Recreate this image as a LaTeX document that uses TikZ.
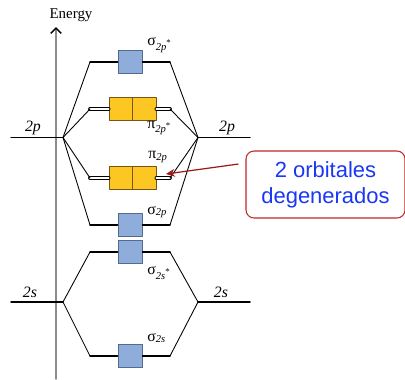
\documentclass[tikz,border=0pt]{standalone}
\usepackage{fontspec}
\setmainfont{Liberation Serif}
\newfontfamily\notefont{Liberation Sans}
\usetikzlibrary{positioning, arrows.meta}

\definecolor{sigmafill}{RGB}{143,173,219}
\definecolor{sigmaedge}{RGB}{85,105,140}
\definecolor{pifill}{RGB}{252,198,35}
\definecolor{piedge}{RGB}{120,85,20}
\definecolor{notered}{RGB}{190,40,40}
\definecolor{noteblue}{RGB}{25,55,245}
\definecolor{pointred}{RGB}{160,25,25}
\definecolor{axisgray}{RGB}{140,140,140}

\begin{document}
\begin{tikzpicture}[x=0.02cm, y=-0.02cm, line cap=round, line join=round]
	\tikzset{
		level/.style={line width=0.85pt},
		link/.style={line width=0.5pt},
		pairlevel/.style={line width=0.55pt, double=white, double distance=1.1pt},
		mobox/.style={line width=0.5pt, minimum width=0.48cm, minimum height=0.46cm, inner sep=0pt},
		sigmabox/.style={mobox, draw=sigmaedge, fill=sigmafill}, % orbital sigma
		pibox/.style={mobox, draw=piedge, fill=pifill, minimum width=0.47cm}, % orbital pi
		molabel/.style={anchor=west, inner sep=0pt, font=\small},
		atomlabel/.style={inner sep=0pt, font=\small\itshape},
		axis/.style={draw=axisgray, line width=0.85pt, -{Straight Barb[color=black, length=3pt, width=6pt]}},
		note/.style={draw=notered, line width=0.6pt, rounded corners=0.16cm, minimum width=3.18cm, minimum height=1.34cm, align=center, text=noteblue, font=\fontsize{12.5}{15}\notefont},
		pointer/.style={draw=pointred, line width=0.7pt, shorten <=0.15cm, -{Stealth[length=5pt, width=4.5pt]}},
		every node/.style={font=\footnotesize}
	}
	\useasboundingbox (0,0) rectangle (405,379);

	% eje de energia
	\coordinate (axisbot) at (56,379);
	\coordinate (axistop) at (56,27);
	\draw[axis] (axisbot) -- (axistop);
	\node[font=\fontsize{8.5}{10}\selectfont] (energy) at (71,15) {Energy};

	% niveles atomicos
	\coordinate (pL) at (11,137.5);
	\coordinate (jpL) at (63,137.5);
	\coordinate (jpR) at (198,137.5);
	\coordinate (pR) at (250,137.5);
	\coordinate (sL) at (11,302);
	\coordinate (jsL) at (63,302);
	\coordinate (jsR) at (198,302);
	\coordinate (sR) at (250,302);

	% extremos de los niveles moleculares
	\foreach \name/\y in {sgpstar/62, pipstar/109, pip/178, sgp/225, sgsstar/252, sgs/356} {
		\coordinate (\name L) at (90,\y);
		\coordinate (\name R) at (170,\y);
	}

	% orbitales
	\node[sigmabox] (sgpstar) at (130,62) {};
	\node[pibox] (pipstarA) at (120.75,109) {};
	\node[pibox, right=-0.5pt of pipstarA] (pipstarB) {};
	\node[pibox] (pipA) at (120.75,178) {};
	\node[pibox, right=-0.5pt of pipA] (pipB) {};
	\node[sigmabox] (sgp) at (130,225) {};
	\node[sigmabox] (sgsstar) at (130,252) {};
	\node[sigmabox] (sgs) at (130,356) {};

	\foreach \name in {sgpstar, sgp, sgsstar, sgs}
		\draw[level] (\name L) -- (\name) -- (\name R);
	\draw[pairlevel] (pipstarL) -- (pipstarA);
	\draw[pairlevel] (pipstarB) -- (pipstarR);
	\draw[pairlevel] (pipL) -- (pipA);
	\draw[pairlevel] (pipB) -- (pipR);

	\draw[level] (pL) -- (jpL);
	\draw[level] (jpR) -- (pR);
	\draw[level] (sL) -- (jsL);
	\draw[level] (jsR) -- (sR);

	\foreach \name in {sgpstar, pipstar, pip, sgp} {
		\draw[link] (jpL) -- (\name L);
		\draw[link] (jpR) -- (\name R);
	}
	\foreach \name in {sgsstar, sgs} {
		\draw[link] (jsL) -- (\name L);
		\draw[link] (jsR) -- (\name R);
	}

	% etiquetas
	\node[atomlabel] (lblpL) at (33,128) {2p};
	\node[atomlabel] (lblpR) at (227,128) {2p};
	\node[atomlabel] (lblsL) at (30,292) {2s};
	\node[atomlabel] (lblsR) at (221,292) {2s};
	\node[molabel] (lblsgpstar) at (147,45) {σ\textsubscript{\textit{2p}\textsuperscript{*}}};
	\node[molabel] (lblpipstar) at (147,128) {π\textsubscript{\textit{2p}\textsuperscript{*}}};
	\node[molabel] (lblpip) at (148,157) {π\textsubscript{\textit{2p}}};
	\node[molabel] (lblsgp) at (147,212) {σ\textsubscript{\textit{2p}}};
	\node[molabel] (lblsgsstar) at (147,273) {σ\textsubscript{\textit{2s}\textsuperscript{*}}};
	\node[molabel] (lblsgs) at (147,338) {σ\textsubscript{\textit{2s}}};

	% nota
	\node[note] (note) at (325.5,184.5) {2 orbitales\\degenerados};
	\coordinate (pitip) at (166,174);
	\draw[pointer] (note.165) -- (pitip);
\end{tikzpicture}
\end{document}
